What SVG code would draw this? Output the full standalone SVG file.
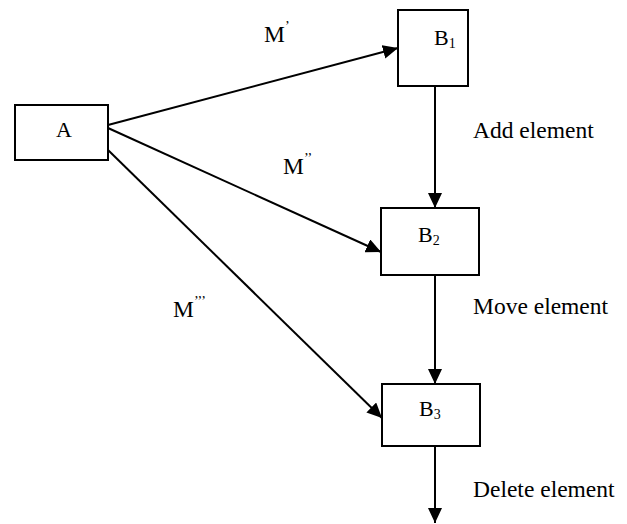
<svg xmlns="http://www.w3.org/2000/svg" width="627" height="524" viewBox="0 0 627 524">
<style>
.box{fill:#fff;stroke:#000;stroke-width:2}
.ln{stroke:#000;stroke-width:2;fill:none;marker-end:url(#ah)}
text{font-family:"Liberation Serif","Times New Roman",serif;font-size:23.5px;fill:#000}
.nl{font-size:22px}
.sub{font-size:14px}
.sup{font-size:14px}
</style>
<defs>
<marker id="ah" viewBox="0 0 15 14" refX="15" refY="7" markerWidth="15" markerHeight="14" markerUnits="userSpaceOnUse" orient="auto">
<path d="M0,0 L15,7 L0,14 Z" fill="#000"/>
</marker>
</defs>
<g id="connectors">
<line class="ln" x1="108" y1="125" x2="398" y2="48"/>
<line class="ln" x1="108" y1="128" x2="381" y2="252"/>
<line class="ln" x1="108" y1="150" x2="382" y2="418"/>
<line class="ln" x1="435" y1="86" x2="435" y2="208"/>
<line class="ln" x1="435" y1="275" x2="435" y2="384"/>
<line class="ln" x1="435" y1="446" x2="435" y2="523"/>
</g>
<g id="A"><rect class="box" x="15" y="105" width="93" height="55"/><text class="nl" x="56" y="137">A</text></g>
<g id="B1"><rect class="box" x="398" y="10" width="70" height="76"/><text class="nl" x="434" y="45">B<tspan class="sub" dy="3">1</tspan></text></g>
<g id="B2"><rect class="box" x="381" y="208" width="98" height="67"/><text class="nl" x="418" y="242">B<tspan class="sub" dy="3">2</tspan></text></g>
<g id="B3"><rect class="box" x="382" y="384" width="98" height="62"/><text class="nl" x="419" y="416">B<tspan class="sub" dy="3">3</tspan></text></g>
<g id="labels">
<text x="264" y="42">M<tspan class="sup" dy="-11">’</tspan></text>
<text x="283" y="174">M<tspan class="sup" dy="-11">’’</tspan></text>
<text x="173" y="317">M<tspan class="sup" dy="-11">’’’</tspan></text>
<text x="473" y="138">Add element</text>
<text x="473" y="314">Move element</text>
<text x="473" y="497">Delete element</text>
</g>
</svg>
